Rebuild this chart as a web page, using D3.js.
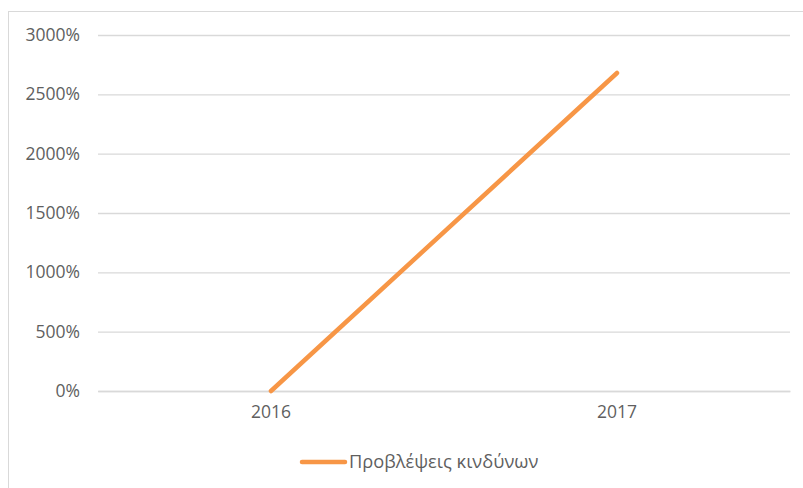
<!DOCTYPE html>
<html>
<head>
<meta charset="utf-8">
<script src="https://cdn.jsdelivr.net/npm/d3@7"></script>
<style>
  body { margin: 0; background: #fff; }
  text { font-family: "Open Sans", "Noto Sans", sans-serif; fill: #595959; }
</style>
</head>
<body>
<div id="chart"></div>
<script>
const years = ['2016', '2017'];
const values = [0, 26.8];           // 0% -> 2680%
const yTicks = [0, 5, 10, 15, 20, 25, 30];
const seriesName = 'Προβλέψεις κινδύνων';

const width = 803, height = 488;
const plotLeft = 98, plotRight = 790, plotTop = 35, plotBottom = 391;
const fontSize = 17.5;

const svg = d3.select('#chart').append('svg')
  .attr('width', width).attr('height', height);

// chart area border (only left and top visible in the crop)
svg.append('rect')
  .attr('x', 8.5).attr('y', 11.5)
  .attr('width', 810).attr('height', 500)
  .attr('fill', 'none').attr('stroke', '#d9d9d9');

const x = d3.scaleBand().domain(years).range([plotLeft, plotRight]);
const y = d3.scaleLinear().domain([0, 30]).range([plotBottom, plotTop]);

const yAxis = d3.axisLeft(y)
  .tickValues(yTicks)
  .tickSize(-(plotRight - plotLeft))
  .tickPadding(18)
  .tickFormat(d => d3.format('.0%')(d));

svg.append('g')
  .attr('transform', `translate(${plotLeft},0)`)
  .call(yAxis)
  .call(g => g.select('.domain').remove())
  .call(g => g.selectAll('line').attr('stroke', '#d9d9d9').attr('stroke-width', 1.3))
  .call(g => g.selectAll('text').attr('font-size', fontSize).style('fill', '#5f5f5f'));

const xAxis = d3.axisBottom(x).tickSize(0).tickPadding(15);
svg.append('g')
  .attr('transform', `translate(0,${plotBottom})`)
  .call(xAxis)
  .call(g => g.select('.domain').attr('stroke', '#d9d9d9').attr('stroke-width', 1.3))
  .call(g => g.selectAll('text').attr('font-size', fontSize).style('fill', '#5f5f5f'));

const line = d3.line()
  .x((d, i) => x(years[i]) + x.bandwidth() / 2)
  .y(d => y(d));

svg.append('path')
  .datum(values)
  .attr('d', line)
  .attr('fill', 'none')
  .attr('stroke', '#F79646')
  .attr('stroke-width', 4.5)
  .attr('stroke-linecap', 'round');

// legend
const lg = svg.append('g').attr('transform', 'translate(300,462)');
lg.append('line')
  .attr('x1', 2).attr('x2', 45).attr('y1', 0).attr('y2', 0)
  .attr('stroke', '#F79646').attr('stroke-width', 4.5)
  .attr('stroke-linecap', 'round');
lg.append('text')
  .attr('x', 49).attr('y', 6)
  .attr('font-size', 18.3)
  .style('fill', '#5f5f5f')
  .text(seriesName);
</script>
</body>
</html>
